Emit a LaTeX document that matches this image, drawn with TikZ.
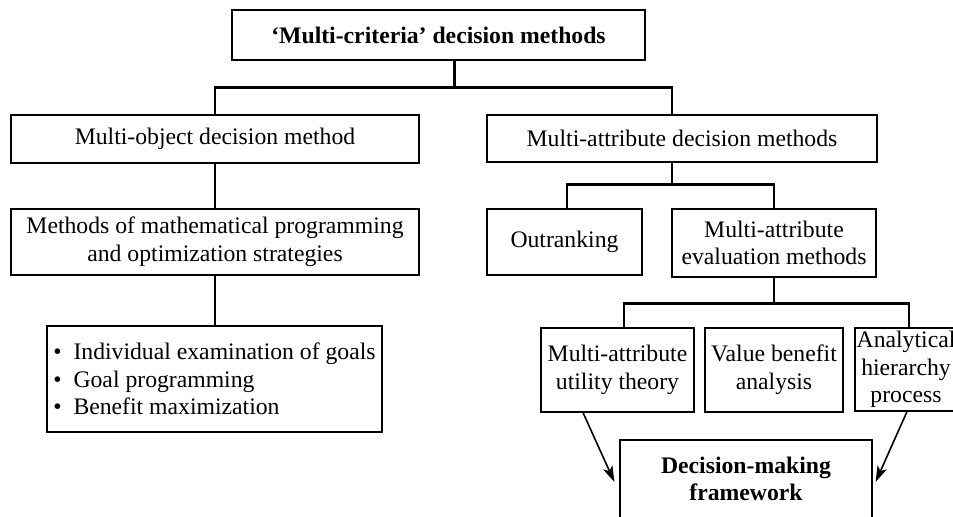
\documentclass[tikz,border=0pt]{standalone}
\usepackage{fontspec}
\setmainfont{Liberation Serif}
\usepackage{tikz}
\usetikzlibrary{calc, arrows.meta}
\tikzset{box/.style={draw, line width=0.6pt, align=center, inner sep=0pt, font=\fontsize{11.85}{13.8}\selectfont},
link/.style={line width=1.3pt},
arr/.style={line width=0.8pt, -{Stealth[length=8pt, width=5pt, inset=2pt]}}}

\begin{document}
\begin{tikzpicture}[x=0.5pt, y=-0.5pt]
\useasboundingbox (0,0) rectangle (953,517);
\foreach \n/\x/\y/\w/\h/\txt in {top/438.5/35/413/50/{\bfseries `Multi-criteria' decision methods},
mobj/215/139/408/48/{Multi-object decision method}, mattr/682/138.5/390/47/{Multi-attribute decision methods},
mprog/215/242/408/66/{Methods of mathematical programming\\and optimization strategies},
outrank/564.5/242/155/66/{Outranking}, meval/774/243/204/68/{Multi-attribute\\evaluation methods},
maut/617.5/370/153/84/{Multi-attribute\\utility theory}, vba/774/370/138/84/{Value benefit\\analysis},
ahp/906/369.5/102/83/{Analytical\\hierarchy\\process}, dmf/746/479/252/78/{\bfseries Decision-making\\\bfseries framework}}{
\node[box, minimum width=\w*0.5pt, minimum height=\h*0.5pt] (\n) at (\x,\y) {\txt};
}
\node[box, align=left, minimum width=167.5pt, minimum height=53pt] (goals) at (214.5,379)
{\textbullet\ \ Individual examination of goals\\\textbullet\ \ Goal programming\\\textbullet\ \ Benefit maximization};
\draw[link] ($(top.south)+(16,0)$) -- ++(0,27) coordinate (b1);
\draw[link] (mobj.north) |- (b1) -| ($(mattr.north)+(-10,0)$);
\draw[link] (mobj) -- (mprog);
\draw[link] (mprog.south) -- (mprog.south |- goals.north);
\draw[link] ($(mattr.south)+(-10,0)$) -- ++(0,22) coordinate (b2);
\draw[link] ($(outrank.north)+(2.5,0)$) |- (b2) -| (meval.north);
\draw[link] (meval.south) -- ++(0,26) coordinate (b3);
\draw[link] ($(maut.north)+(6.5,0)$) |- (b3) -| ($(ahp.north)+(3,0)$);
\draw[arr] ($(maut.south)+(-34.5,0)$) -- ($(dmf.west)+(-5,3)$);
\draw[arr] ($(ahp.south)+(1,0)$) -- ($(dmf.east)+(3,3)$);
\end{tikzpicture}
\end{document}
